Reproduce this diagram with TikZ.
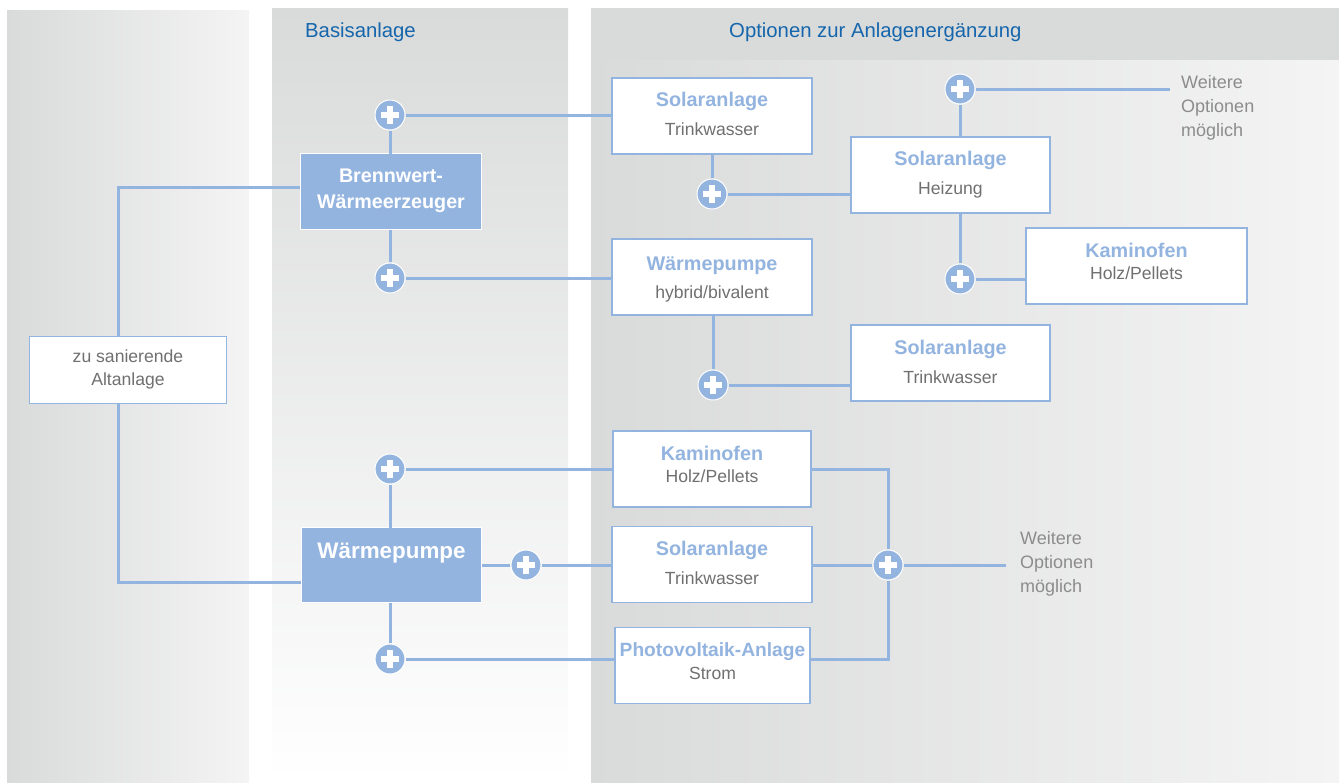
\documentclass[tikz,border=0pt]{standalone}
\usepackage{fontspec}
\setmainfont{Liberation Sans}
\definecolor{linecol}{HTML}{94B4E0}
\definecolor{panelgrey}{HTML}{D9DADA}
\definecolor{panellight}{HTML}{F4F4F4}
\definecolor{headblue}{HTML}{1566AC}
\definecolor{subgrey}{HTML}{707070}
\definecolor{notegrey}{HTML}{8C8C8C}
\newcommand{\ttl}[1]{{\fontsize{19.8}{24}\selectfont\bfseries\color{linecol}#1}}
\newcommand{\ttlb}[1]{{\fontsize{19.2}{24}\selectfont\bfseries\color{linecol}#1}}
\newcommand{\subt}[1]{{\fontsize{17.6}{24}\selectfont\color{subgrey}#1}}
\tikzset{
  optbox/.style={draw=linecol,line width=1.4pt,fill=white,inner sep=0pt,outer sep=0pt,align=center,font=\fontsize{17.6}{24}\selectfont},
  mainbox/.style={draw=white,line width=1.5pt,fill=linecol,inner sep=0pt,outer sep=0pt,align=center,text=white,font=\fontsize{19.7}{26}\selectfont\bfseries},
  plusnode/.style={circle,draw=white,line width=1pt,fill=linecol,minimum size=30pt,inner sep=0pt,outer sep=1pt,
    path picture={\fill[white] ([xshift=-9pt,yshift=-3.2pt]path picture bounding box.center) rectangle ++(18pt,6.4pt);
                  \fill[white] ([xshift=-3.2pt,yshift=-9pt]path picture bounding box.center) rectangle ++(6.4pt,18pt);}},
  conn/.style={draw=linecol,line width=3pt},
  heading/.style={text=headblue,font=\fontsize{20.3}{24}\selectfont,inner sep=0pt,anchor=west},
  note/.style={text=notegrey,font=\fontsize{18}{24}\selectfont,align=left,inner sep=0pt,anchor=north west}
}
\begin{document}
\begin{tikzpicture}[x=1pt,y=-1pt]
\useasboundingbox (0,0) rectangle (1340,782);
% panels
\shade[left color=panelgrey,right color=panellight] (7,10) rectangle (249,782);
\shade[top color=panelgrey,bottom color=white] (272,8) rectangle (568,782);
\shade[left color=panelgrey,right color=panellight] (591,60) rectangle (1339,782);
\fill[panelgrey] (591,8) rectangle (1339,60);
\node[heading] (hbasis) at (305,32) {Basisanlage};
\node[heading] (hopt) at (729,32) {Optionen zur Anlagenergänzung};
% main boxes
\node[mainbox,minimum width=181pt,minimum height=76pt,text depth=5pt] (bw) at (391,191.5) {Brennwert-\\Wärmeerzeuger};
\node[mainbox,minimum width=180pt,minimum height=75pt,font=\fontsize{22.4}{28}\selectfont\bfseries] (wp) at (391.5,565) {Wärmepumpe\\~};
\node[optbox,minimum width=197pt,minimum height=67pt,text=subgrey,font=\fontsize{17.6}{23}\selectfont,text depth=4.5pt] (alt) at (128,370) {zu sanierende\\Altanlage};
% option boxes
\node[optbox,minimum width=200pt,minimum height=76pt,text depth=4pt] (s1) at (712,116) {\ttl{Solaranlage}\\[5pt]\subt{Trinkwasser}};
\node[optbox,minimum width=200pt,minimum height=76pt] (wh) at (712,277) {\rule{0pt}{18pt}\ttl{Wärmepumpe}\\[4pt]\subt{hybrid/bivalent}};
\node[optbox,minimum width=199pt,minimum height=76pt,text depth=4pt] (s2) at (950.5,175) {\ttl{Solaranlage}\\[5pt]\subt{Heizung}};
\node[optbox,minimum width=221pt,minimum height=76pt,text depth=10pt] (k1) at (1136.5,266) {\ttl{Kaminofen}\\[-2pt]\subt{Holz/Pellets}};
\node[optbox,minimum width=199pt,minimum height=76pt,text depth=3pt] (s3) at (950.5,363) {\ttl{Solaranlage}\\[5pt]\subt{Trinkwasser}};
\node[optbox,minimum width=198pt,minimum height=76pt,text depth=10pt] (k2) at (712,469) {\ttl{Kaminofen}\\[-2pt]\subt{Holz/Pellets}};
\node[optbox,minimum width=200pt,minimum height=76pt,text depth=4pt] (s4) at (712,564.5) {\ttl{Solaranlage}\\[5pt]\subt{Trinkwasser}};
\node[optbox,minimum width=195pt,minimum height=76pt,text depth=9pt] (pv) at (712.5,665.5) {\ttlb{Photovoltaik-Anlage}\\[-1pt]\subt{Strom}};
% plus nodes
\node[plusnode] (p1) at (390,115) {};
\node[plusnode] (p2) at (390,278) {};
\node[plusnode] (p3) at (712,194) {};
\node[plusnode] (p4) at (960,89) {};
\node[plusnode] (p5) at (960,279) {};
\node[plusnode] (p6) at (713,385) {};
\node[plusnode] (p7) at (390,469) {};
\node[plusnode] (p8) at (526,565) {};
\node[plusnode] (p9) at (390,659) {};
\node[plusnode] (p10) at (888,565) {};
% notes
\node[note] (n1) at (1181,75) {Weitere\\Optionen\\möglich};
\node[note] (n2) at (1020,531) {Weitere\\Optionen\\möglich};
\coordinate (e1) at (1170,89);
\coordinate (e2) at (1006,565);
\coordinate (bwl) at (300,187);
\coordinate (altT) at (118,337);
\coordinate (altB) at (118,404);
\coordinate (wpl) at (301,582);
% connectors
\draw[conn] (bwl) -| (altT);
\draw[conn] (altB) |- (wpl);
\draw[conn] (p1) -- (p1 |- bw.north);
\draw[conn] (p2) -- (p2 |- bw.south);
\draw[conn] (p1) -- (p1 -| s1.west);
\draw[conn] (p2) -- (p2 -| wh.west);
\draw[conn] (p3) -- (p3 |- s1.south);
\draw[conn] (p3) -- (p3 -| s2.west);
\draw[conn] (p4) -- (p4 |- s2.north);
\draw[conn] (p4) -- (e1);
\draw[conn] (p5) -- (p5 |- s2.south);
\draw[conn] (p5) -- (p5 -| k1.west);
\draw[conn] (p6) -- (p6 |- wh.south);
\draw[conn] (p6) -- (p6 -| s3.west);
\draw[conn] (p7) -- (p7 |- wp.north);
\draw[conn] (p7) -- (p7 -| k2.west);
\draw[conn] (p8) -- (p8 -| wp.east);
\draw[conn] (p8) -- (p8 -| s4.west);
\draw[conn] (p9) -- (p9 |- wp.south);
\draw[conn] (p9) -- (p9 -| pv.west);
\draw[conn] (p10) -- (p10 -| s4.east);
\draw[conn] (p10) -- (e2);
\draw[conn] (p7 -| k2.east) -| (p10);
\draw[conn] (p9 -| pv.east) -| (p10);
\end{tikzpicture}
\end{document}
